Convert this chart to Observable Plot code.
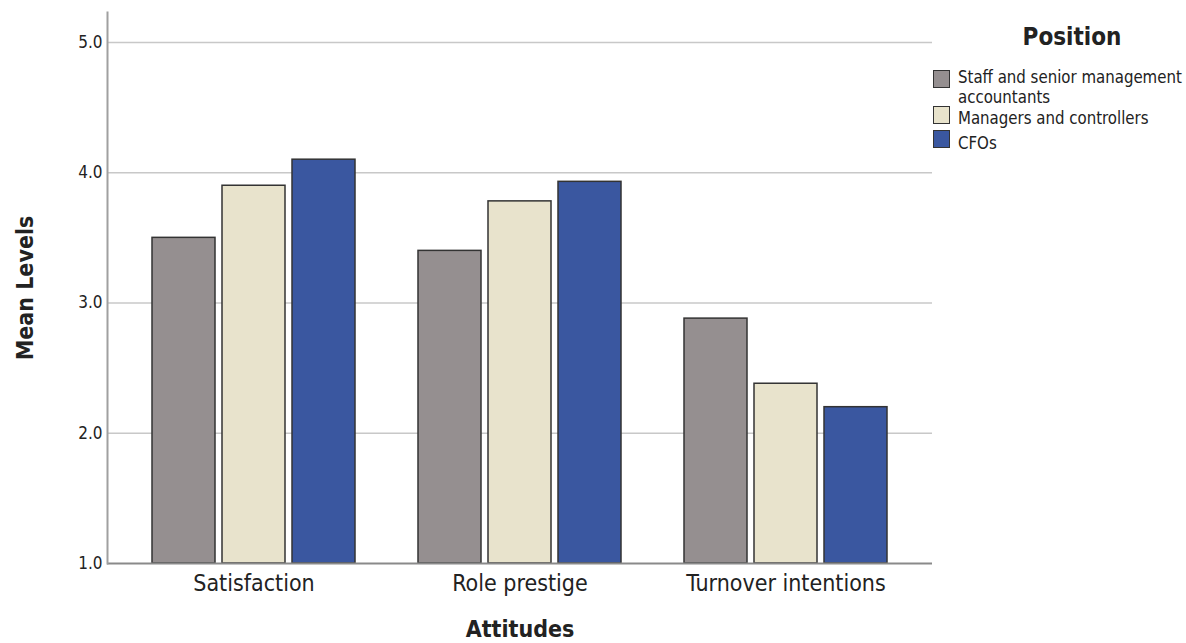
<!DOCTYPE html>
<html><head><meta charset="utf-8">
<script src="https://cdn.jsdelivr.net/npm/d3@7"></script>
<script src="https://cdn.jsdelivr.net/npm/@observablehq/plot@0.6"></script>
<style>
body{margin:0;background:#fff;}
#wrap{position:relative;width:1186px;height:643px;overflow:hidden;font-family:"Liberation Sans Narrow","Arial Narrow","DejaVu Sans Condensed","Roboto Condensed",sans-serif;color:#222;}
#legend{position:absolute;left:0;top:0;}
#legend .title{position:absolute;left:1012px;width:120px;top:22px;text-align:center;font-weight:bold;font-size:24px;line-height:30px;white-space:nowrap;}
#legend .sw{position:absolute;left:933px;width:15px;height:16px;border:1.5px solid #333;box-sizing:content-box;}
#legend .lab{position:absolute;left:958px;font-size:17px;line-height:17px;white-space:nowrap;transform:scaleX(0.98);transform-origin:left top;color:#222;}
</style></head>
<body>
<div id="wrap"><div id="chart"></div><div id="legend"></div></div>
<script>
const categories = ["Satisfaction", "Role prestige", "Turnover intentions"];
const positions = ["Staff and senior management accountants", "Managers and controllers", "CFOs"];
const staffValues = [3.50, 3.40, 2.88];
const managerValues = [3.90, 3.78, 2.38];
const cfoValues = [4.10, 3.93, 2.20];
const yTicks = [1, 2, 3, 4, 5];

const series = [staffValues, managerValues, cfoValues];
const fills = ["#958f90", "#e8e3cc", "#3a57a0"];
const font = '"Liberation Sans Narrow","Arial Narrow","DejaVu Sans Condensed","Roboto Condensed",sans-serif';

const barMarks = series.map((vals, i) => Plot.barY(categories, {
  x: d => d,
  y1: 1,
  y2: (d, j) => vals[j],
  fill: fills[i],
  stroke: "#333",
  strokeWidth: 1.5,
  insetLeft: i * 70,
  insetRight: (2 - i) * 70
}));

const chart = Plot.plot({
  width: 1186,
  height: 643,
  marginLeft: 107,
  marginRight: 254,
  marginTop: 12,
  marginBottom: 80,
  style: {fontFamily: font, color: "#222", background: "#fff"},
  x: {domain: categories, paddingInner: 0.236, paddingOuter: 0.165},
  y: {domain: [1, 5.23]},
  marks: [
    Plot.ruleY(yTicks.filter(d => d > 1), {stroke: "#c8c8c8", strokeWidth: 1.5}),
    ...barMarks,
    Plot.ruleY([1], {stroke: "#8a8a8a", strokeWidth: 2}),
    Plot.frame({anchor: "left", stroke: "#a0a0a0", strokeWidth: 2}),
    Plot.axisY({ticks: yTicks, tickFormat: d3.format(".1f"), tickSize: 0, tickPadding: 5, fontSize: 17, label: null}),
    Plot.axisX({tickSize: 0, tickPadding: 11, fontSize: 23, label: null}),
    Plot.text(["Attitudes"], {frameAnchor: "bottom", dy: 73, fontSize: 23, fontWeight: "bold"}),
    Plot.text(["Mean Levels"], {frameAnchor: "left", dx: -82, rotate: -90, textAnchor: "middle", fontSize: 23, fontWeight: "bold"})
  ]
});
document.getElementById("chart").appendChild(chart);

const legend = d3.select("#legend");
legend.append("div").attr("class", "title").text("Position");
const swatchTops = [70, 106, 130];
const labelLines = [["Staff and senior management", "accountants"], [positions[1]], [positions[2]]];
const labelTops = [69, 109.6, 134.6];
positions.forEach((p, i) => {
  legend.append("div").attr("class", "sw").style("top", swatchTops[i] + "px").style("background", fills[i]);
  labelLines[i].forEach((line, k) => {
    legend.append("div").attr("class", "lab").style("top", (labelTops[i] + k * 20) + "px").text(line);
  });
});
</script>
</body></html>
